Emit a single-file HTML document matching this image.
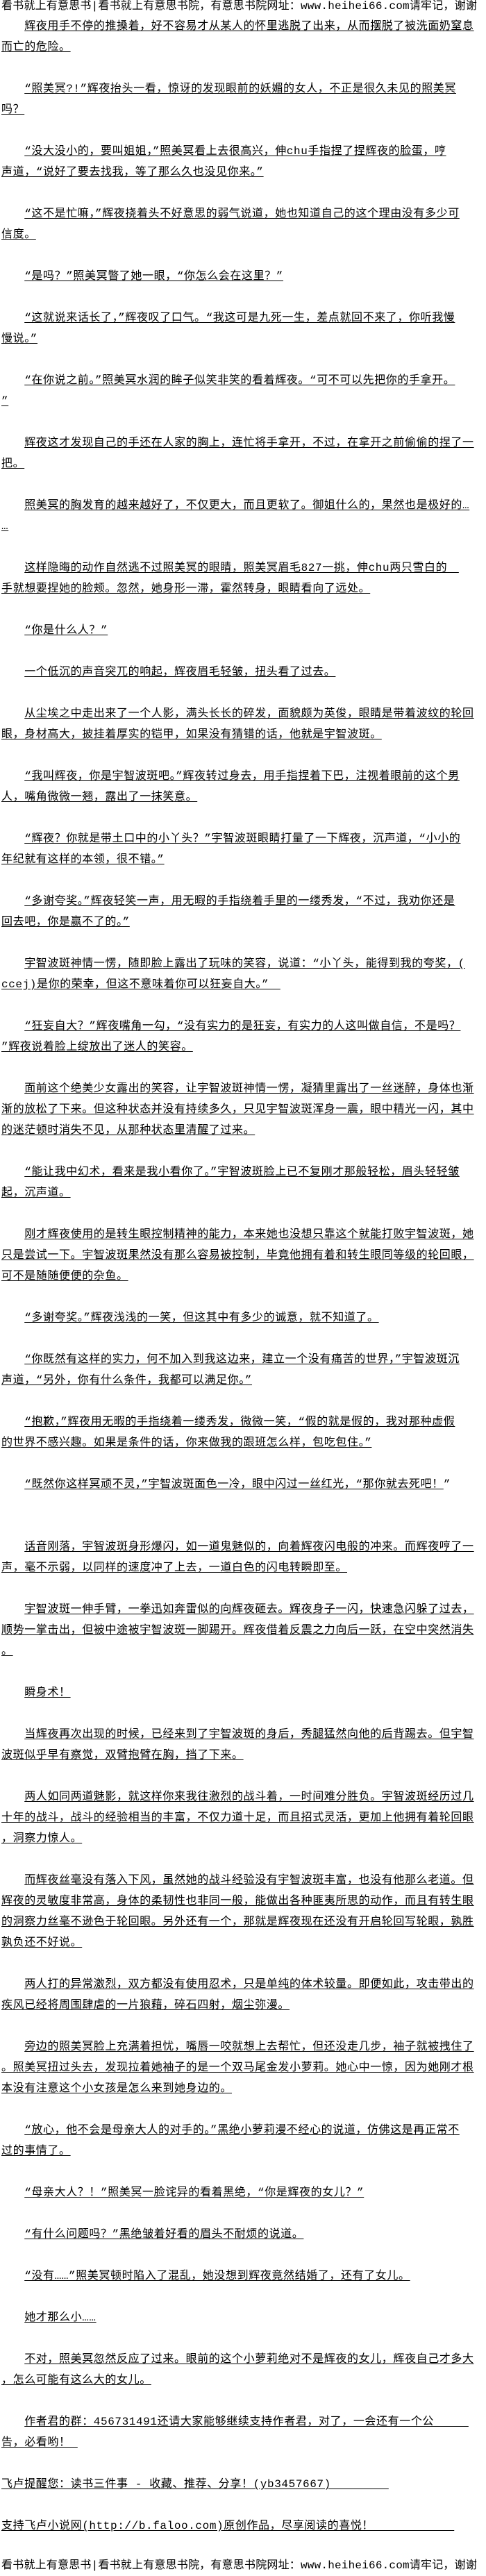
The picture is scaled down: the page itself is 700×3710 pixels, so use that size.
<!DOCTYPE html>
<html><head><meta charset="utf-8">
<style>
html,body{margin:0;padding:0;background:#fff;}
body{width:700px;height:3710px;position:relative;overflow:hidden;color:#000;
font-family:"Liberation Mono","Noto Sans CJK SC",monospace;font-size:16px;letter-spacing:0.6px;}
.hd{position:absolute;left:2px;white-space:pre;line-height:18px;font-size:16px;letter-spacing:0.2px;}
#t{position:absolute;left:2px;top:23px;width:700px;line-height:30px;}
#t>div{height:30px;white-space:pre;overflow:visible;}
u{text-decoration:underline;text-underline-offset:2px;}
</style></head><body>
<div class="hd" style="top:0px">看书就上有意思书|看书就上有意思书院，有意思书院网址：www.heihei66.com请牢记，谢谢</div>
<div id="t"><div>　　<u>辉夜用手不停的推搡着，好不容易才从某人的怀里逃脱了出来，从而摆脱了被洗面奶窒息</u></div><div><u>而亡的危险。</u></div><div></div><div>　　<u>“照美冥?!”辉夜抬头一看，惊讶的发现眼前的妖媚的女人，不正是很久未见的照美冥</u></div><div><u>吗？</u></div><div></div><div>　　<u>“没大没小的，要叫姐姐，”照美冥看上去很高兴，伸chu手指捏了捏辉夜的脸蛋，哼</u></div><div><u>声道，“说好了要去找我，等了那么久也没见你来。”</u></div><div></div><div>　　<u>“这不是忙嘛，”辉夜挠着头不好意思的弱气说道，她也知道自己的这个理由没有多少可</u></div><div><u>信度。</u></div><div></div><div>　　<u>“是吗？”照美冥瞥了她一眼，“你怎么会在这里？”</u></div><div></div><div>　　<u>“这就说来话长了，”辉夜叹了口气。“我这可是九死一生，差点就回不来了，你听我慢</u></div><div><u>慢说。”</u></div><div></div><div>　　<u>“在你说之前。”照美冥水润的眸子似笑非笑的看着辉夜。“可不可以先把你的手拿开。</u></div><div><u>”</u></div><div></div><div>　　<u>辉夜这才发现自己的手还在人家的胸上，连忙将手拿开，不过，在拿开之前偷偷的捏了一</u></div><div><u>把。</u></div><div></div><div>　　<u>照美冥的胸发育的越来越好了，不仅更大，而且更软了。御姐什么的，果然也是极好的…</u></div><div><u>…</u></div><div></div><div>　　<u>这样隐晦的动作自然逃不过照美冥的眼睛，照美冥眉毛827一挑，伸chu两只雪白的　</u></div><div><u>手就想要捏她的脸颊。忽然，她身形一滞，霍然转身，眼睛看向了远处。</u></div><div></div><div>　　<u>“你是什么人？”</u></div><div></div><div>　　<u>一个低沉的声音突兀的响起，辉夜眉毛轻皱，扭头看了过去。</u></div><div></div><div>　　<u>从尘埃之中走出来了一个人影，满头长长的碎发，面貌颇为英俊，眼睛是带着波纹的轮回</u></div><div><u>眼，身材高大，披挂着厚实的铠甲，如果没有猜错的话，他就是宇智波斑。</u></div><div></div><div>　　<u>“我叫辉夜，你是宇智波斑吧。”辉夜转过身去，用手指捏着下巴，注视着眼前的这个男</u></div><div><u>人，嘴角微微一翘，露出了一抹笑意。</u></div><div></div><div>　　<u>“辉夜？你就是带土口中的小丫头？”宇智波斑眼睛打量了一下辉夜，沉声道，“小小的</u></div><div><u>年纪就有这样的本领，很不错。”</u></div><div></div><div>　　<u>“多谢夸奖。”辉夜轻笑一声，用无暇的手指绕着手里的一缕秀发，“不过，我劝你还是</u></div><div><u>回去吧，你是赢不了的。”</u></div><div></div><div>　　<u>宇智波斑神情一愣，随即脸上露出了玩味的笑容，说道：“小丫头，能得到我的夸奖，(</u></div><div><u>ccej)是你的荣幸，但这不意味着你可以狂妄自大。”　</u></div><div></div><div>　　<u>“狂妄自大？”辉夜嘴角一勾，“没有实力的是狂妄，有实力的人这叫做自信，不是吗？</u></div><div><u>”辉夜说着脸上绽放出了迷人的笑容。</u></div><div></div><div>　　<u>面前这个绝美少女露出的笑容，让宇智波斑神情一愣，凝猜里露出了一丝迷醉，身体也渐</u></div><div><u>渐的放松了下来。但这种状态并没有持续多久，只见宇智波斑浑身一震，眼中精光一闪，其中</u></div><div><u>的迷茫顿时消失不见，从那种状态里清醒了过来。</u></div><div></div><div>　　<u>“能让我中幻术，看来是我小看你了。”宇智波斑脸上已不复刚才那般轻松，眉头轻轻皱</u></div><div><u>起，沉声道。</u></div><div></div><div>　　<u>刚才辉夜使用的是转生眼控制精神的能力，本来她也没想只靠这个就能打败宇智波斑，她</u></div><div><u>只是尝试一下。宇智波斑果然没有那么容易被控制，毕竟他拥有着和转生眼同等级的轮回眼，</u></div><div><u>可不是随随便便的杂鱼。</u></div><div></div><div>　　<u>“多谢夸奖。”辉夜浅浅的一笑，但这其中有多少的诚意，就不知道了。</u></div><div></div><div>　　<u>“你既然有这样的实力，何不加入到我这边来，建立一个没有痛苦的世界，”宇智波斑沉</u></div><div><u>声道，“另外，你有什么条件，我都可以满足你。”</u></div><div></div><div>　　<u>“抱歉，”辉夜用无暇的手指绕着一缕秀发，微微一笑，“假的就是假的，我对那种虚假</u></div><div><u>的世界不感兴趣。如果是条件的话，你来做我的跟班怎么样，包吃包住。”</u></div><div></div><div>　　<u>“既然你这样冥顽不灵，”宇智波斑面色一冷，眼中闪过一丝红光，“那你就去死吧！</u>”</div><div></div><div></div><div>　　<u>话音刚落，宇智波斑身形爆闪，如一道鬼魅似的，向着辉夜闪电般的冲来。而辉夜哼了一</u></div><div><u>声，毫不示弱，以同样的速度冲了上去，一道白色的闪电转瞬即至。</u></div><div></div><div>　　<u>宇智波斑一伸手臂，一拳迅如奔雷似的向辉夜砸去。辉夜身子一闪，快速急闪躲了过去，</u></div><div><u>顺势一掌击出，但被中途被宇智波斑一脚踢开。辉夜借着反震之力向后一跃，在空中突然消失</u></div><div><u>。</u></div><div></div><div>　　<u>瞬身术！</u></div><div></div><div>　　<u>当辉夜再次出现的时候，已经来到了宇智波斑的身后，秀腿猛然向他的后背踢去。但宇智</u></div><div><u>波斑似乎早有察觉，双臂抱臂在胸，挡了下来。</u></div><div></div><div>　　<u>两人如同两道魅影，就这样你来我往激烈的战斗着，一时间难分胜负。宇智波斑经历过几</u></div><div><u>十年的战斗，战斗的经验相当的丰富，不仅力道十足，而且招式灵活，更加上他拥有着轮回眼</u></div><div><u>，洞察力惊人。</u></div><div></div><div>　　<u>而辉夜丝毫没有落入下风，虽然她的战斗经验没有宇智波斑丰富，也没有他那么老道。但</u></div><div><u>辉夜的灵敏度非常高，身体的柔韧性也非同一般，能做出各种匪夷所思的动作，而且有转生眼</u></div><div><u>的洞察力丝毫不逊色于轮回眼。另外还有一个，那就是辉夜现在还没有开启轮回写轮眼，孰胜</u></div><div><u>孰负还不好说。</u></div><div></div><div>　　<u>两人打的异常激烈，双方都没有使用忍术，只是单纯的体术较量。即便如此，攻击带出的</u></div><div><u>疾风已经将周围肆虐的一片狼藉，碎石四射，烟尘弥漫。</u></div><div></div><div>　　<u>旁边的照美冥脸上充满着担忧，嘴唇一咬就想上去帮忙，但还没走几步，袖子就被拽住了</u></div><div><u>。照美冥扭过头去，发现拉着她袖子的是一个双马尾金发小萝莉。她心中一惊，因为她刚才根</u></div><div><u>本没有注意这个小女孩是怎么来到她身边的。</u></div><div></div><div>　　<u>“放心，他不会是母亲大人的对手的。”黑绝小萝莉漫不经心的说道，仿佛这是再正常不</u></div><div><u>过的事情了。</u></div><div></div><div>　　<u>“母亲大人？！”照美冥一脸诧异的看着黑绝，“你是辉夜的女儿？”</u></div><div></div><div>　　<u>“有什么问题吗？”黑绝皱着好看的眉头不耐烦的说道。</u></div><div></div><div>　　<u>“没有……”照美冥顿时陷入了混乱，她没想到辉夜竟然结婚了，还有了女儿。</u></div><div></div><div>　　<u>她才那么小……</u></div><div></div><div>　　<u>不对，照美冥忽然反应了过来。眼前的这个小萝莉绝对不是辉夜的女儿，辉夜自己才多大</u></div><div><u>，怎么可能有这么大的女儿。</u></div><div></div><div>　　<u>作者君的群：456731491还请大家能够继续支持作者君，对了，一会还有一个公　　　</u></div><div><u>告，必看哟！ </u></div><div></div><div><u>飞卢提醒您：读书三件事 - 收藏、推荐、分享！(yb3457667)　　　　　</u></div><div></div><div><u>支持飞卢小说网(http://b.faloo.com)原创作品，尽享阅读的喜悦！　　　　　　　</u></div></div>
<div class="hd" style="top:3686px">看书就上有意思书|看书就上有意思书院，有意思书院网址：www.heihei66.com请牢记，谢谢</div>
</body></html>
